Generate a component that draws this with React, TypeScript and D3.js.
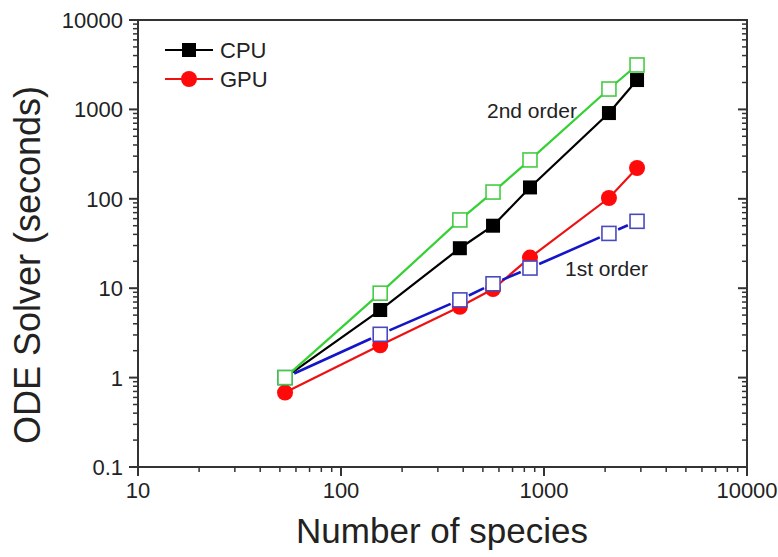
import React from "react";
import * as d3 from "d3";

// Number of species for each mechanism size
const species = [53, 156, 385, 561, 853, 2089, 2873];

// ODE solver time (seconds)
const cpuTimes = [1.0, 5.7, 28, 50, 134, 910, 2130];
const gpuTimes = [0.68, 2.3, 6.2, 9.8, 22, 102, 221];
const firstOrder = [1.0, 3.05, 7.4, 11.2, 16.8, 41, 56];
const secondOrder = [1.0, 8.8, 58, 119, 272, 1690, 3140];

const xTicks = [10, 100, 1000, 10000];
const yTicks = [0.1, 1, 10, 100, 1000, 10000];
const xTickLabels = ["10", "100", "1000", "10000"];
const yTickLabels = ["0.1", "1", "10", "100", "1000", "10000"];

const W = 778;
const H = 557;
const left = 138;
const right = 747;
const top = 20;
const bottom = 467;

const FONT = "'Liberation Sans', Arial, sans-serif";
const AXIS = "#333";
const TEXT = "#222";

function minorTicks(lo: number, hi: number): number[] {
  const out: number[] = [];
  for (let d = lo; d < hi; d *= 10) {
    for (let k = 2; k <= 9; k++) out.push(d * k);
  }
  return out;
}

export default function App() {
  const x = d3.scaleLog().domain([10, 10000]).range([left, right]);
  const y = d3.scaleLog().domain([0.1, 10000]).range([bottom, top]);

  const pts = (ys: number[]) => species.map((s, i) => [x(s), y(ys[i])] as [number, number]);
  const line = d3.line<[number, number]>();

  const cpuPts = pts(cpuTimes);
  const gpuPts = pts(gpuTimes);
  const p1 = pts(firstOrder);
  const p2 = pts(secondOrder);

  // blue connector drawn with small gaps around the open markers
  const gap = 10;
  const blueSegs = p1.slice(1).map((b, i) => {
    const a = p1[i];
    const dx = b[0] - a[0];
    const dy = b[1] - a[1];
    const len = Math.hypot(dx, dy);
    const ux = dx / len;
    const uy = dy / len;
    return [
      [a[0] + ux * gap, a[1] + uy * gap],
      [b[0] - ux * gap, b[1] - uy * gap],
    ] as [number, number][];
  });

  const xMinor = minorTicks(10, 10000);
  const yMinor = minorTicks(0.1, 10000);
  const sq = 14;

  return (
    <svg
      width={W}
      height={H}
      style={{ position: "absolute", left: 0, top: 0, background: "#fff" }}
      fontFamily={FONT}
    >
      {/* frame */}
      <rect x={left} y={top} width={right - left} height={bottom - top} fill="none" stroke={AXIS} strokeWidth={2} />

      {/* left axis ticks (outward), right axis mirrored inward */}
      {yTicks.map((t, i) => (
        <g key={"yl" + t}>
          <line x1={left - 9} x2={left} y1={y(t)} y2={y(t)} stroke={AXIS} strokeWidth={2} />
          <line x1={right} x2={right - 9} y1={y(t)} y2={y(t)} stroke={AXIS} strokeWidth={2} />
          <text x={left - 15} y={y(t)} dy="0.36em" textAnchor="end" fontSize={22} fill={TEXT}>
            {yTickLabels[i]}
          </text>
        </g>
      ))}
      {yMinor.map((t) => (
        <g key={"ym" + t}>
          <line x1={left - 5} x2={left} y1={y(t)} y2={y(t)} stroke={AXIS} strokeWidth={1.5} />
          <line x1={right} x2={right - 5} y1={y(t)} y2={y(t)} stroke={AXIS} strokeWidth={1.5} />
        </g>
      ))}

      {/* bottom axis ticks (outward) */}
      {xTicks.map((t, i) => (
        <g key={"xt" + t}>
          <line x1={x(t)} x2={x(t)} y1={bottom} y2={bottom + 9} stroke={AXIS} strokeWidth={2} />
          <text x={x(t)} y={bottom + 31} textAnchor="middle" fontSize={22} fill={TEXT}>
            {xTickLabels[i]}
          </text>
        </g>
      ))}
      {xMinor.map((t) => (
        <line key={"xm" + t} x1={x(t)} x2={x(t)} y1={bottom} y2={bottom + 5} stroke={AXIS} strokeWidth={1.5} />
      ))}

      {/* axis titles */}
      <text x={442} y={543} textAnchor="middle" fontSize={35} fill={TEXT}>
        Number of species
      </text>
      <text
        transform={`translate(40,265) rotate(-90)`}
        textAnchor="middle"
        fontSize={36}
        fill={TEXT}
      >
        ODE Solver (seconds)
      </text>

      {/* CPU */}
      <path d={line(cpuPts) ?? ""} fill="none" stroke="#000" strokeWidth={2.2} />
      {cpuPts.map(([px, py], i) => (
        <rect key={"c" + i} x={px - sq / 2} y={py - sq / 2} width={sq} height={sq} fill="#000" />
      ))}

      {/* GPU */}
      <path d={line(gpuPts) ?? ""} fill="none" stroke="#ee1111" strokeWidth={2.2} />
      {gpuPts.map(([px, py], i) => (
        <circle key={"g" + i} cx={px} cy={py} r={8} fill="#ff0a0a" />
      ))}

      {/* 1st order */}
      {blueSegs.map((s, i) => (
        <path key={"b" + i} d={line(s) ?? ""} fill="none" stroke="#1515c8" strokeWidth={2.6} />
      ))}
      {p1.map(([px, py], i) => (
        <rect
          key={"p1" + i}
          x={px - sq / 2}
          y={py - sq / 2}
          width={sq}
          height={sq}
          fill="#fff"
          stroke="#4a4ac0"
          strokeWidth={1.6}
        />
      ))}

      {/* 2nd order */}
      <path d={line(p2) ?? ""} fill="none" stroke="#33d133" strokeWidth={2.2} />
      {p2.map(([px, py], i) => (
        <rect
          key={"p2" + i}
          x={px - sq / 2}
          y={py - sq / 2}
          width={sq}
          height={sq}
          fill="#fff"
          stroke="#44cc44"
          strokeWidth={1.6}
        />
      ))}

      {/* annotations */}
      <text x={487} y={118} fontSize={21} fill={TEXT}>
        2nd order
      </text>
      <text x={565} y={276} fontSize={21} fill={TEXT}>
        1st order
      </text>

      {/* legend */}
      <g>
        <line x1={165} x2={213} y1={50} y2={50} stroke="#000" strokeWidth={2.2} />
        <rect x={189 - sq / 2} y={50 - sq / 2} width={sq} height={sq} fill="#000" />
        <text x={220} y={50} dy="0.36em" fontSize={22} fill={TEXT}>
          CPU
        </text>
        <line x1={165} x2={213} y1={79} y2={79} stroke="#ee1111" strokeWidth={2.2} />
        <circle cx={189} cy={79} r={8} fill="#ff0a0a" />
        <text x={220} y={79} dy="0.36em" fontSize={22} fill={TEXT}>
          GPU
        </text>
      </g>
    </svg>
  );
}
